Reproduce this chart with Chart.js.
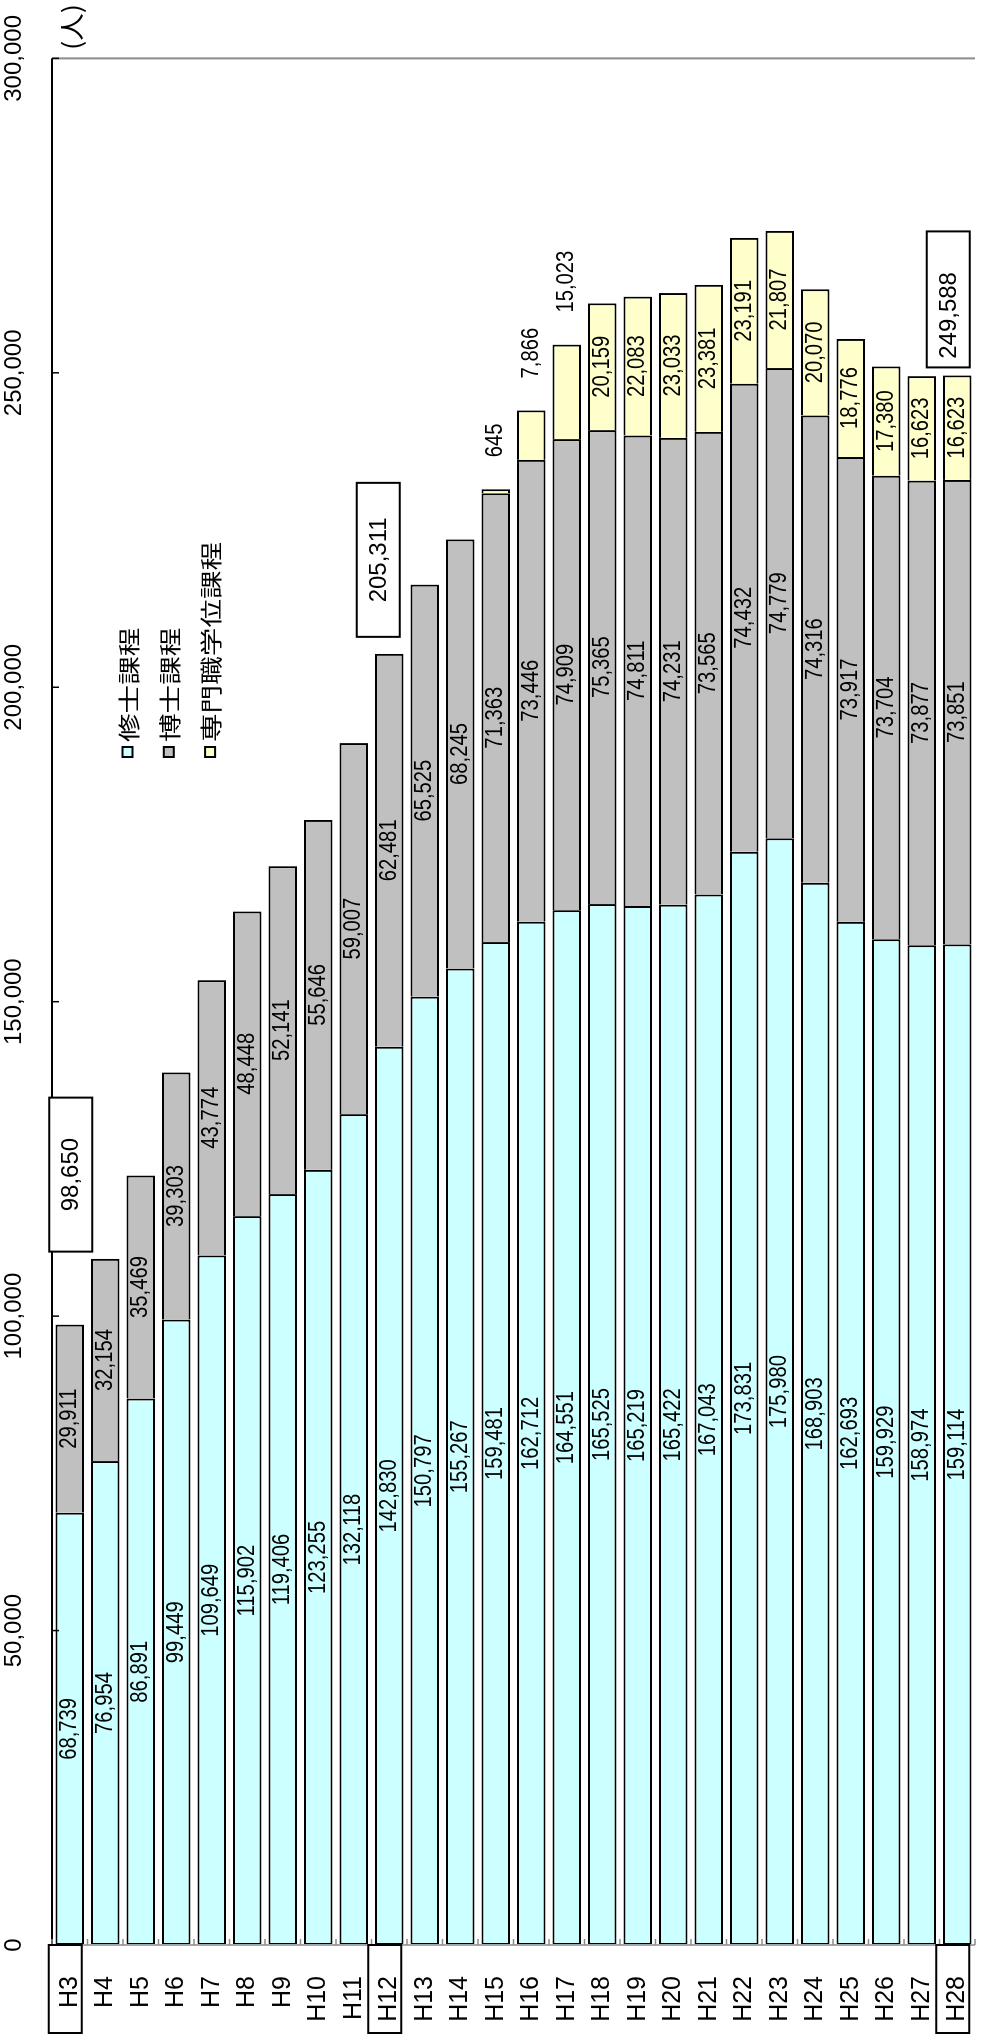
<!DOCTYPE html>
<html lang="ja">
<head>
<meta charset="utf-8">
<title>大学院在学者数の推移</title>
<script src="https://cdn.jsdelivr.net/npm/chart.js@4/dist/chart.umd.min.js"></script>
<style>
  html, body { margin: 0; padding: 0; background: #fff; }
  body { width: 1007px; height: 2042px; overflow: hidden; position: relative; }
  /* the chart is laid out as a horizontal bar chart and turned a quarter turn */
  #wrap {
    position: absolute; left: 0; top: 0;
    width: 2042px; height: 1013px;
    transform-origin: 0 0;
    transform: translate(0px, 2042px) rotate(-90deg);
  }
  canvas { display: block; }
</style>
</head>
<body>
<div id="wrap"><canvas id="chart" width="2042" height="1013"></canvas></div>
<script>
// 年度
const categories = ['H3','H4','H5','H6','H7','H8','H9','H10','H11','H12','H13','H14','H15',
                    'H16','H17','H18','H19','H20','H21','H22','H23','H24','H25','H26','H27','H28'];

// 修士課程
const masterStudents = [68739, 76954, 86891, 99449, 109649, 115902, 119406, 123255, 132118, 142830,
                        150797, 155267, 159481, 162712, 164551, 165525, 165219, 165422, 167043,
                        173831, 175980, 168903, 162693, 159929, 158974, 159114];

// 博士課程
const doctoralStudents = [29911, 32154, 35469, 39303, 43774, 48448, 52141, 55646, 59007, 62481,
                          65525, 68245, 71363, 73446, 74909, 75365, 74811, 74231, 73565,
                          74432, 74779, 74316, 73917, 73704, 73877, 73851];

// 専門職学位課程（H15〜）
const professionalStudents = [null, null, null, null, null, null, null, null, null, null, null, null,
                              645, 7866, 15023, 20159, 22083, 23033, 23381,
                              23191, 21807, 20070, 18776, 17380, 16623, 16623];

const seriesNames = ['修士課程', '博士課程', '専門職学位課程'];
const valueTicks = [0, 50000, 100000, 150000, 200000, 250000, 300000];
const unitLabel = '(人)';

const LATIN = '"Liberation Sans", Arial, sans-serif';
const CJK = '"Noto Sans CJK JP", "Noto Sans CJK SC", sans-serif';
const fmt = v => v.toLocaleString('en-US');

// boxed totals and boxed year labels
const totalBoxes = [
  { year: 'H3',  gap: 73, length: 154, across: 1,   textShift: 0 },
  { year: 'H12', gap: 17, length: 154, across: -11, textShift: 0 },
  { year: 'H28', gap: 8,  length: 136, across: -9,  textShift: -16 }
];

function drawScaledText(ctx, text, x, y, font, sx, align) {
  ctx.save();
  ctx.font = font;
  ctx.translate(x, y);
  ctx.scale(sx, 1);
  ctx.textAlign = align || 'center';
  ctx.textBaseline = 'middle';
  ctx.fillStyle = '#000';
  ctx.fillText(text, 0, 0);
  ctx.restore();
}

function line(ctx, x1, y1, x2, y2, color, width) {
  ctx.save();
  ctx.strokeStyle = color;
  ctx.lineWidth = width;
  ctx.beginPath();
  ctx.moveTo(x1, y1);
  ctx.lineTo(x2, y2);
  ctx.stroke();
  ctx.restore();
}

const decorations = {
  id: 'decorations',
  afterDraw(chart) {
    const { ctx, chartArea: a, scales: { x, y } } = chart;
    const step = y.getPixelForValue(1) - y.getPixelForValue(0);

    // plot frame: 300,000 line, baseline, value axis
    line(ctx, a.right, a.top, a.right, a.bottom, '#8c8c8c', 2);
    line(ctx, a.left, a.top, a.left, a.bottom, '#a6a6a6', 2);
    line(ctx, a.left, a.top, a.right, a.top, '#000', 2);

    // inward tick marks
    valueTicks.forEach(v => {
      const px = x.getPixelForValue(v);
      line(ctx, px, a.top, px, a.top + 7, '#000', 1.5);
    });
    for (let i = 0; i <= categories.length; i++) {
      const py = y.getPixelForValue(0) - step / 2 + i * step;
      line(ctx, a.left, py, a.left + 6, py, '#8c8c8c', 1.5);
    }

    // value labels on each segment
    const labelFont = `23px ${LATIN}`;
    const labelScale = 0.88;
    chart.data.datasets.forEach((ds, di) => {
      const meta = chart.getDatasetMeta(di);
      meta.data.forEach((bar, i) => {
        const v = ds.data[i];
        if (v == null) return;
        const text = fmt(v);
        ctx.font = labelFont;
        const w = ctx.measureText(text).width * labelScale;
        const len = Math.abs(bar.x - bar.base);
        if (len >= w + 36) {
          drawScaledText(ctx, text, (bar.x + bar.base) / 2, bar.y, labelFont, labelScale, 'center');
        } else {
          drawScaledText(ctx, text, bar.x + 32, bar.y, labelFont, labelScale, 'left');
        }
      });
    });

    // boxed totals and boxed year labels
    totalBoxes.forEach(b => {
      const i = categories.indexOf(b.year);
      const total = chart.data.datasets.reduce((s, ds) => s + (ds.data[i] || 0), 0);
      const end = x.getPixelForValue(total);
      const cy = y.getPixelForValue(i);
      const x0 = end + b.gap;
      const thick = 43;
      ctx.save();
      ctx.fillStyle = '#fff';
      ctx.fillRect(x0, cy + b.across - thick / 2, b.length, thick);
      ctx.strokeStyle = '#000';
      ctx.lineWidth = 2;
      ctx.strokeRect(x0, cy + b.across - thick / 2, b.length, thick);
      ctx.restore();
      drawScaledText(ctx, fmt(total), x0 + b.length / 2 + b.textShift, cy + b.across + 1,
                     `24px ${LATIN}`, 1, 'center');

      ctx.save();
      ctx.strokeStyle = '#000';
      ctx.lineWidth = 2;
      ctx.strokeRect(9, cy - 4.5 - 16.5, a.left - 9, 33);
      ctx.restore();
    });

    // legend
    const lg = { x: 1285, y: 127.5, gap: 41.3, box: 10 };
    chart.data.datasets.forEach((ds, di) => {
      const cy = lg.y + di * lg.gap;
      ctx.save();
      ctx.fillStyle = ds.backgroundColor;
      ctx.fillRect(lg.x, cy - lg.box / 2, lg.box, lg.box);
      ctx.strokeStyle = '#000';
      ctx.lineWidth = 2;
      ctx.strokeRect(lg.x, cy - lg.box / 2, lg.box, lg.box);
      ctx.restore();
      drawScaledText(ctx, ds.label, lg.x + 15, cy + 1, `22px ${CJK}`, 1.3, 'left');
    });

    // unit
    drawScaledText(ctx, unitLabel, 1992, 71.5, `25px ${CJK}`, 1.1, 'left');
  }
};

new Chart(document.getElementById('chart').getContext('2d'), {
  type: 'bar',
  data: {
    labels: categories,
    datasets: [
      { label: seriesNames[0], data: masterStudents, backgroundColor: '#CCFFFF',
        borderColor: '#000', borderWidth: 2, borderSkipped: false },
      { label: seriesNames[1], data: doctoralStudents, backgroundColor: '#C0C0C0',
        borderColor: '#000', borderWidth: 2, borderSkipped: 'start' },
      { label: seriesNames[2], data: professionalStudents, backgroundColor: '#FFFFCC',
        borderColor: '#000', borderWidth: 2, borderSkipped: 'start' }
    ]
  },
  options: {
    indexAxis: 'y',
    responsive: false,
    animation: false,
    devicePixelRatio: 1,
    layout: { padding: { left: 0, right: 57, top: 0, bottom: 0 } },
    datasets: { bar: { barPercentage: 0.8, categoryPercentage: 1 } },
    plugins: { legend: { display: false }, tooltip: { enabled: false } },
    scales: {
      x: {
        position: 'top',
        stacked: true,
        min: 0,
        max: 300000,
        afterBuildTicks: s => { s.ticks = valueTicks.map(v => ({ value: v })); },
        afterFit: s => { s.height = 52; },
        grid: { display: false },
        border: { display: false },
        ticks: {
          padding: 15,
          color: '#000',
          font: { family: LATIN, size: 24 },
          callback: v => fmt(v)
        }
      },
      y: {
        stacked: true,
        afterFit: s => { s.width = 97; },
        grid: { display: false },
        border: { display: false },
        ticks: {
          padding: 23,
          autoSkip: false,
          color: '#000',
          font: { family: LATIN, size: 25 }
        }
      }
    }
  },
  plugins: [decorations]
});
</script>
</body>
</html>
